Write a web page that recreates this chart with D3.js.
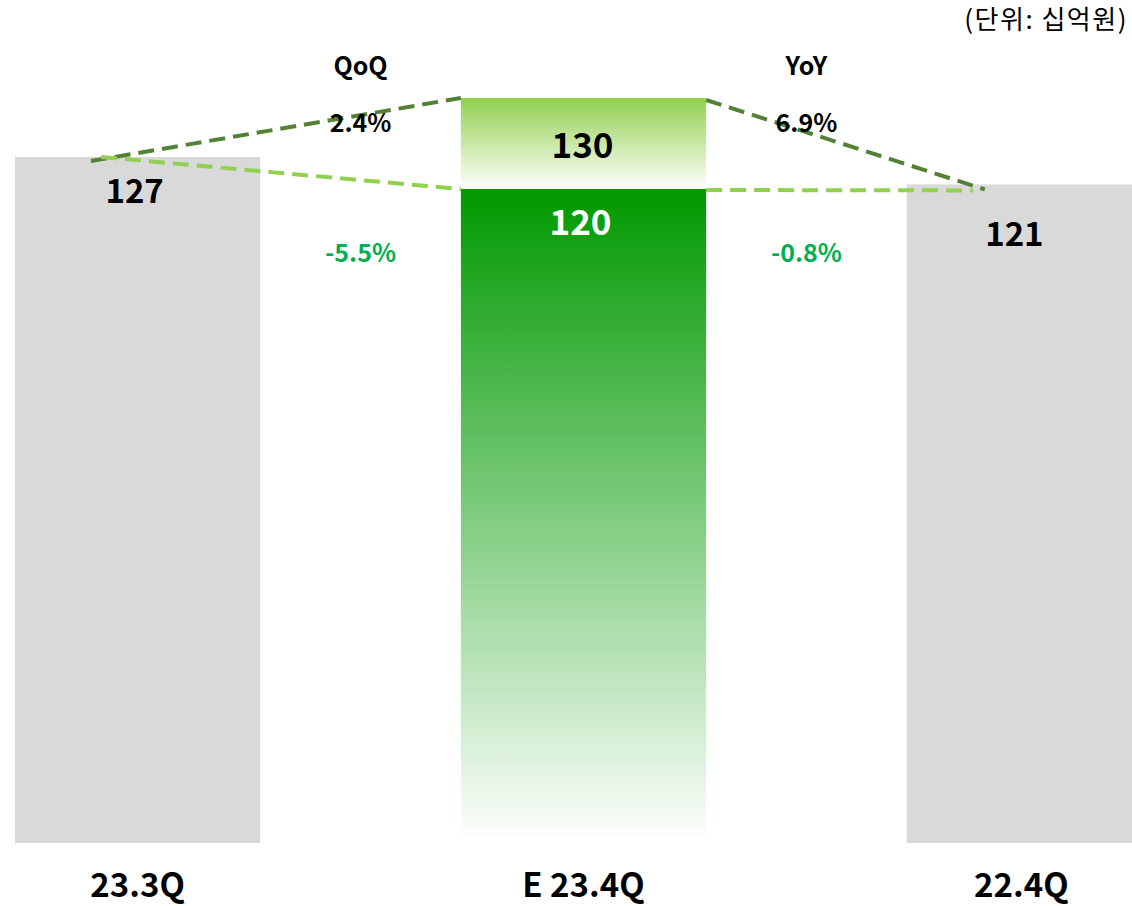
<!DOCTYPE html>
<html>
<head>
<meta charset="utf-8">
<script src="https://cdn.jsdelivr.net/npm/d3@7"></script>
<style>
  body { margin: 0; background: #fff; }
  text { font-family: "Noto Sans CJK KR", "Noto Sans", sans-serif; }
  .cat { font-size: 33px; font-weight: bold; text-anchor: middle; }
  .val { font-size: 33px; font-weight: bold; text-anchor: middle; }
  .big { font-size: 35px; }
  .cmp { font-size: 25px; font-weight: bold; text-anchor: middle; }
  .pct { font-size: 25px; font-weight: bold; text-anchor: middle; }
  .unit { font-size: 26px; letter-spacing: 1.5px; text-anchor: end; }
</style>
</head>
<body>
<svg id="chart" width="1132" height="906"></svg>
<script>
// data
const categories = ["23.3Q", "E 23.4Q", "22.4Q"];
const actual = [127, 120, 121];
const consensus = 130;
const compareLabels = ["QoQ", "YoY"];
const consensusChange = ["2.4%", "6.9%"];
const actualChange = ["-5.5%", "-0.8%"];
const unitLabel = "(단위: 십억원)";

const svg = d3.select("#chart");

// x: bands for the three bars
const x = d3.scaleBand()
  .domain(categories)
  .range([15, 1152])
  .paddingInner(0.45)
  .paddingOuter(0);

// y: the original graphic isn't drawn to a single linear scale
const y = d3.scaleLinear()
  .domain([0, 120, 127, 130])
  .range([843, 189, 157, 98]);

const defs = svg.append("defs");
const gDark = defs.append("linearGradient")
  .attr("id", "gDark").attr("x1", 0).attr("y1", 0).attr("x2", 0).attr("y2", 1);
gDark.append("stop").attr("offset", "0%").attr("stop-color", "#009900");
gDark.append("stop").attr("offset", "100%").attr("stop-color", "#ffffff");

const gLight = defs.append("linearGradient")
  .attr("id", "gLight").attr("x1", 0).attr("y1", 0).attr("x2", 0).attr("y2", 1);
gLight.append("stop").attr("offset", "0%").attr("stop-color", "#92D050");
gLight.append("stop").attr("offset", "100%").attr("stop-color", "#ffffff");

// bars
svg.selectAll(".bar")
  .data(categories)
  .join("rect")
  .attr("class", "bar")
  .attr("x", d => x(d))
  .attr("width", x.bandwidth())
  .attr("y", (d, i) => y(actual[i]))
  .attr("height", (d, i) => y(0) - y(actual[i]))
  .attr("fill", (d, i) => i === 1 ? "url(#gDark)" : "#D9D9D9");

// consensus box on top of the estimate bar
const mid = categories[1];
svg.append("rect")
  .attr("x", x(mid))
  .attr("width", x.bandwidth())
  .attr("y", y(consensus))
  .attr("height", y(actual[1]) - y(consensus))
  .attr("fill", "url(#gLight)");

// dashed connectors
const anchor = i => x(categories[i]) + x.bandwidth() * 0.31;
const line = d3.line();
const midL = x(mid), midR = x(mid) + x.bandwidth();

const darkPts = [
  [[anchor(0), y(actual[0]) + 4], [midL, y(consensus)]],
  [[midR, y(consensus) + 2], [anchor(2) + 2, y(actual[2]) + 5]]
];
const lightPts = [
  [[anchor(0) + 10, y(actual[0])], [midL, y(actual[1])]],
  [[midR, y(actual[1]) + 1], [anchor(2) - 10, y(actual[2]) + 6]]
];

svg.selectAll(".dark")
  .data(darkPts)
  .join("path")
  .attr("class", "dark")
  .attr("d", line)
  .attr("fill", "none")
  .attr("stroke", "#548235")
  .attr("stroke-width", 4)
  .attr("stroke-dasharray", "16 8");

svg.selectAll(".light")
  .data(lightPts)
  .join("path")
  .attr("class", "light")
  .attr("d", line)
  .attr("fill", "none")
  .attr("stroke", "#92D050")
  .attr("stroke-width", 4)
  .attr("stroke-dasharray", "16 8");

// value labels
const valDy = [46, 46, 62];
svg.selectAll(".val")
  .data(categories)
  .join("text")
  .attr("class", (d, i) => i === 1 ? "val big" : "val")
  .attr("x", d => x(d) + x.bandwidth() / 2 - (d === categories[2] ? 15 : 3))
  .attr("y", (d, i) => y(actual[i]) + valDy[i])
  .attr("fill", (d, i) => i === 1 ? "#ffffff" : "#000000")
  .text((d, i) => actual[i]);

svg.append("text")
  .attr("class", "val big")
  .attr("x", x(mid) + x.bandwidth() / 2 - 1)
  .attr("y", y(consensus) + 60)
  .attr("fill", "#000")
  .text(consensus);

// category labels
svg.selectAll(".cat")
  .data(categories)
  .join("text")
  .attr("class", "cat")
  .attr("x", d => x(d) + x.bandwidth() / 2 - (d === categories[2] ? 8 : 0))
  .attr("y", 897)
  .text(d => d);

// QoQ / YoY annotations between bars
const gapX = i => (x(categories[i]) + x.bandwidth() + x(categories[i + 1])) / 2;
compareLabels.forEach((lab, i) => {
  const cx = gapX(i);
  svg.append("text").attr("class", "cmp").attr("x", cx).attr("y", 75).text(lab);
  svg.append("text").attr("class", "pct").attr("x", cx).attr("y", 132)
    .attr("fill", "#000").text(consensusChange[i]);
  svg.append("text").attr("class", "pct").attr("x", cx).attr("y", 262)
    .attr("fill", "#00B050").text(actualChange[i]);
});

// unit
svg.append("text")
  .attr("class", "unit")
  .attr("x", 1128)
  .attr("y", 29)
  .attr("fill", "#000")
  .text(unitLabel);
</script>
</body>
</html>
